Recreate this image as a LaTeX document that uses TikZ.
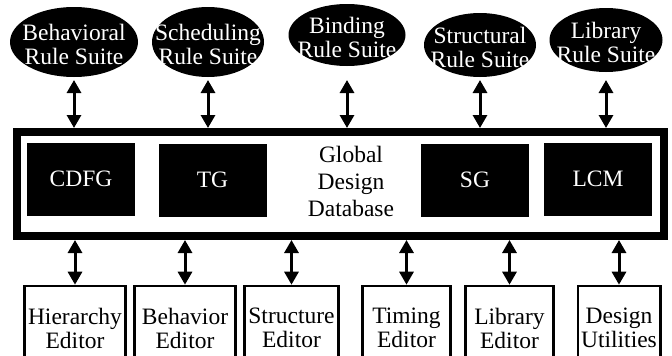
\documentclass[tikz,border=0pt]{standalone}
\usepackage{fontspec}
\setmainfont{Liberation Serif}
\usetikzlibrary{positioning,arrows.meta,shapes.geometric}

\begin{document}
\begin{tikzpicture}[x=1pt, y=-1pt, every node/.style={font=\fontsize{23.5}{24}\selectfont}, suite/.style={ellipse, fill=black, inner sep=0pt, minimum width=114pt, minimum height=66pt}, suitetext/.style={text=white, align=center, inner sep=0pt, yshift=-2pt}, graph/.style={fill=black, text=white, minimum width=108pt, minimum height=73pt}, editor/.style={draw, line width=2.6pt, align=center, minimum height=84pt}, link/.style={<->, line width=3pt, >={Triangle[width=14pt,length=13pt]}}]
\useasboundingbox (0,0) rectangle (672,356);
\clip (0,0) rectangle (672,356);
\node[suite, minimum width=128pt, minimum height=70pt, label={[suitetext]center:Behavioral\\Rule Suite}] (beh) at (74,42) {};
\node[suite, minimum width=112pt, minimum height=70pt, label={[suitetext]center:Scheduling\\Rule Suite}] (sched) at (208,42) {};
\node[suite, minimum width=117pt, minimum height=62pt, label={[suitetext]center:Binding\\Rule Suite}] (bind) at (347,35) {};
\node[suite, minimum width=112pt, minimum height=64pt, label={[suitetext]center:Structural\\Rule Suite}] (struc) at (480,45) {};
\node[suite, minimum width=113pt, minimum height=64pt, label={[suitetext]center:Library\\Rule Suite}] (lib) at (606,40) {};
\node[draw, line width=8pt, minimum width=647pt, minimum height=104pt] (db) at (340.5,184) {};
\node[graph] (cdfg) at (81,179) {CDFG};
\node[graph] (tg) at (212.5,180) {TG};
\node[graph] (sg) at (475,180) {SG};
\node[graph] (lcm) at (598,179) {LCM};
\node[align=center, font=\fontsize{23.5}{27}\selectfont] (gdd) at (351,181) {Global\\Design\\Database};
\coordinate (top) at (0,80);
\foreach \s in {beh,sched,bind,struc,lib}
  \draw[link] (\s |- top) -- (\s |- db.north);
\node[editor, minimum width=101pt] (hier) at (75,328) {Hierarchy\\Editor};
\node[editor, minimum width=101pt] (behed) at (185,328) {Behavior\\Editor};
\node[editor, minimum width=94pt] (strued) at (291.5,328) {Structure\\Editor};
\node[editor, minimum width=88pt] (timed) at (406.5,328) {Timing\\Editor};
\node[editor, minimum width=88pt] (libed) at (509.5,328) {Library\\Editor};
\node[editor, minimum width=81pt] (util) at (619,328) {Design\\Utilities};
\foreach \e in {hier,behed,strued,timed,libed,util}
  \draw[link] (\e.north) -- (\e |- db.south);
\end{tikzpicture}
\end{document}
